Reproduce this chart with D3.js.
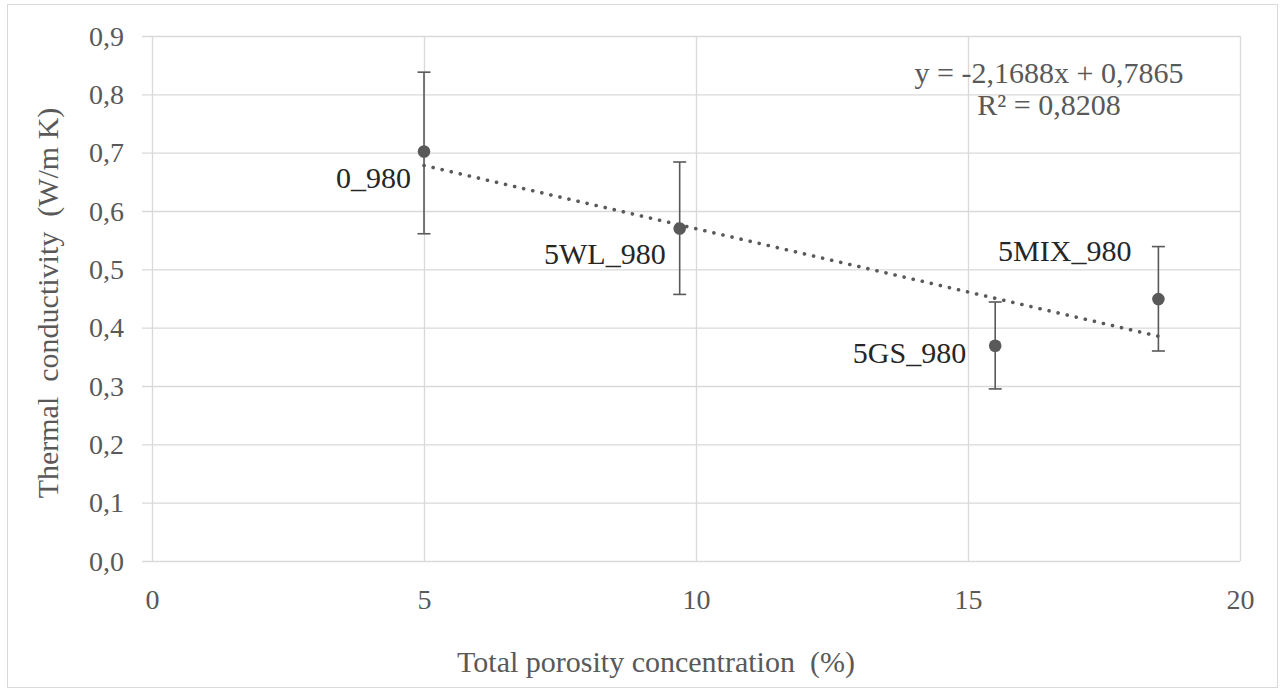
<!DOCTYPE html>
<html>
<head>
<meta charset="utf-8">
<script src="https://cdn.jsdelivr.net/npm/d3@7"></script>
<style>
  html, body { margin: 0; padding: 0; background: #ffffff; }
  svg { display: block; }
</style>
</head>
<body>
<svg id="chart" width="1282" height="691"></svg>
<script>
// ---------------- data ----------------
const sampleLabels = ["0_980", "5WL_980", "5GS_980", "5MIX_980"];
const porosity     = [5.0, 9.7, 15.5, 18.5];
const conductivity = [0.702, 0.570, 0.369, 0.449];
const errorLow     = [0.561, 0.457, 0.295, 0.360];
const errorHigh    = [0.838, 0.684, 0.444, 0.539];
const xTicks = [0, 5, 10, 15, 20];
const yTicks = [0, 0.1, 0.2, 0.3, 0.4, 0.5, 0.6, 0.7, 0.8, 0.9];
const trendSlope = -2.1688;      // per fraction (x/100)
const trendIntercept = 0.7865;
const equationLines = ["y = -2,1688x + 0,7865", "R² = 0,8208"];
const xTitle = "Total porosity concentration  (%)";
const yTitle = "Thermal  conductivity  (W/m K)";

// ---------------- layout / style ----------------
const plot = { left: 152, right: 1240, top: 36, bottom: 561 };
const labelOffsets = [[-13, 36], [-14, 35], [-29, 17], [-27, -38]]; // [dx (right edge), dy (baseline)]
const gray = "#595959";
const gridColor = "#d9d9d9";
const serif = "'Liberation Serif', 'Times New Roman', Times, serif";

const svg = d3.select("#chart");

// outer chart border
svg.append("rect")
  .attr("x", 7.5).attr("y", 4.5).attr("width", 1270).attr("height", 683)
  .attr("fill", "#fff").attr("stroke", gridColor).attr("stroke-width", 1);

const x = d3.scaleLinear().domain([0, 20]).range([plot.left, plot.right]);
const y = d3.scaleLinear().domain([0, 0.9]).range([plot.bottom, plot.top]);

const fmtY = d => d3.format(".1f")(d).replace(".", ",");

// horizontal gridlines + y axis ticks
const yAxis = d3.axisLeft(y).tickValues(yTicks).tickFormat(fmtY)
  .tickSize(-(plot.right - plot.left)).tickPadding(18);
const gy = svg.append("g").attr("transform", `translate(${plot.left},0)`).call(yAxis);
gy.select(".domain").remove();
gy.selectAll(".tick line").attr("stroke", gridColor).attr("stroke-width", 1.3)
  .attr("x1", -10);
gy.selectAll(".tick text").style("font-family", serif).style("font-size", "28px")
  .style("fill", gray).attr("x", -28).attr("dy", "0.33em");

// vertical gridlines + x axis labels
const xAxis = d3.axisBottom(x).tickValues(xTicks).tickFormat(d3.format("d"))
  .tickSize(-(plot.bottom - plot.top)).tickPadding(20);
const gx = svg.append("g").attr("transform", `translate(0,${plot.bottom})`).call(xAxis);
gx.select(".domain").remove();
gx.selectAll(".tick line").attr("stroke", gridColor).attr("stroke-width", 1.3);
gx.selectAll(".tick text").style("font-family", serif).style("font-size", "28px")
  .style("fill", gray).attr("y", 48).attr("dy", 0);

// trendline (dotted) over data range
const xMin = d3.min(porosity), xMax = d3.max(porosity);
const trendPts = [xMin, xMax].map(v => [v, trendSlope * v / 100 + trendIntercept]);
svg.append("line")
  .attr("x1", x(trendPts[0][0])).attr("y1", y(trendPts[0][1]))
  .attr("x2", x(trendPts[1][0])).attr("y2", y(trendPts[1][1]))
  .attr("stroke", gray).attr("stroke-width", 3.6)
  .attr("stroke-linecap", "round").attr("stroke-dasharray", "0.1 9.2");

// error bars
const eb = svg.append("g").attr("stroke", gray).attr("stroke-width", 1.6);
porosity.forEach((px, i) => {
  eb.append("line").attr("x1", x(px)).attr("x2", x(px))
    .attr("y1", y(errorLow[i])).attr("y2", y(errorHigh[i]));
  [errorLow[i], errorHigh[i]].forEach(v => {
    eb.append("line").attr("x1", x(px) - 6.5).attr("x2", x(px) + 6.5)
      .attr("y1", y(v)).attr("y2", y(v));
  });
});

// points
svg.append("g").selectAll("circle").data(porosity).join("circle")
  .attr("cx", d => x(d)).attr("cy", (d, i) => y(conductivity[i]))
  .attr("r", 6.3).attr("fill", gray);

// data labels
svg.append("g").selectAll("text").data(sampleLabels).join("text")
  .attr("x", (d, i) => x(porosity[i]) + labelOffsets[i][0])
  .attr("y", (d, i) => y(conductivity[i]) + labelOffsets[i][1])
  .attr("text-anchor", "end")
  .style("font-family", serif).style("font-size", "30px").style("fill", "#262626")
  .text(d => d);

// equation
svg.append("g").selectAll("text").data(equationLines).join("text")
  .attr("x", 1049).attr("y", (d, i) => 83 + i * 32)
  .attr("text-anchor", "middle")
  .style("font-family", serif).style("font-size", "30px").style("fill", gray)
  .text(d => d);

// axis titles
svg.append("text").attr("x", 656).attr("y", 672).attr("text-anchor", "middle")
  .style("font-family", serif).style("font-size", "30px").style("fill", gray)
  .style("white-space", "pre").text(xTitle);
svg.append("text").attr("transform", "translate(58,303) rotate(-90)")
  .attr("text-anchor", "middle")
  .style("font-family", serif).style("font-size", "30px").style("fill", gray)
  .style("white-space", "pre").text(yTitle);
</script>
</body>
</html>
